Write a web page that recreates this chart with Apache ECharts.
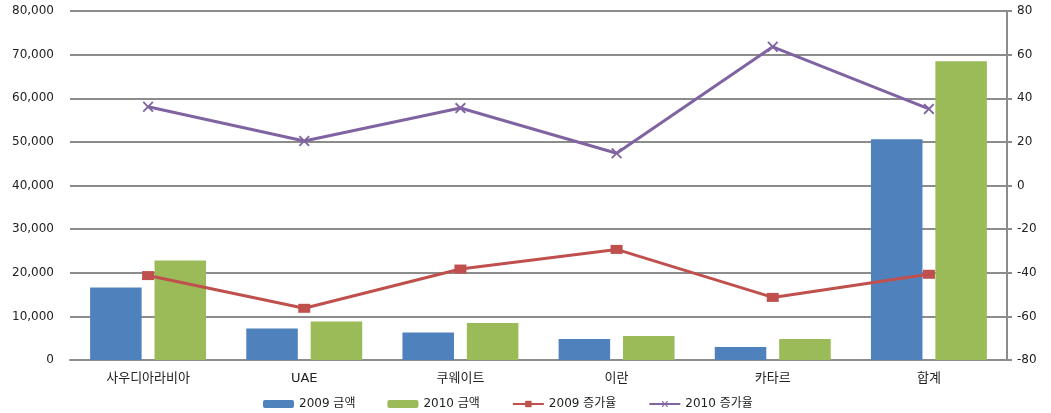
<!DOCTYPE html>
<html>
<head>
<meta charset="utf-8">
<script src="https://cdn.jsdelivr.net/npm/echarts@6/dist/echarts.min.js"></script>
<style>
  html, body { margin: 0; padding: 0; background: #fff; }
  #chart { width: 1051px; height: 413px; }
</style>
</head>
<body>
<div id="chart"></div>
<script>
// Categories and series values
const categories = ['사우디아라비아', 'UAE', '쿠웨이트', '이란', '카타르', '합계'];
const amount2009 = [16600, 7200, 6300, 4800, 3000, 50600];
const amount2010 = [22800, 8800, 8500, 5500, 4800, 68500];
const growth2009 = [-41.3, -56.3, -38.3, -29.3, -51.3, -40.7];
const growth2010 = [36.1, 20.4, 35.5, 14.8, 63.6, 35.1];
const seriesNames = ['2009 금액', '2010 금액', '2009 증가율', '2010 증가율'];

const FONT = '"DejaVu Sans", "Noto Sans CJK KR", sans-serif';
const GRID_COLOR = '#8c8c8c';
const crossSymbol = 'path://M0,1.2L1.2,0L5,3.8L8.8,0L10,1.2L6.2,5L10,8.8L8.8,10L5,6.2L1.2,10L0,8.8L3.8,5Z';

const chart = echarts.init(document.getElementById('chart'), null, { renderer: 'canvas' });

chart.setOption({
  animation: false,
  textStyle: { fontFamily: FONT },
  grid: { left: 70, right: 44, top: 11, bottom: 53, containLabel: false },
  legend: {
    data: seriesNames,
    bottom: -2,
    left: 258,
    itemWidth: 31,
    itemHeight: 8,
    itemGap: 32,
    textStyle: { fontFamily: FONT, fontSize: 12, color: '#222' }
  },
  xAxis: {
    type: 'category',
    data: categories,
    axisLine: { lineStyle: { color: GRID_COLOR, width: 2 } },
    axisTick: { show: false },
    axisLabel: { fontFamily: FONT, fontSize: 13, color: '#222', margin: 12 }
  },
  yAxis: [
    {
      type: 'value',
      min: 0, max: 80000, interval: 10000,
      axisLine: { show: false },
      axisTick: { show: false },
      splitLine: { lineStyle: { color: GRID_COLOR, width: 2 } },
      axisLabel: {
        fontFamily: FONT, fontSize: 12, color: '#222', margin: 16,
        formatter: v => v.toLocaleString('en-US')
      }
    },
    {
      type: 'value',
      min: -80, max: 80, interval: 20,
      position: 'right',
      axisLine: { show: true, lineStyle: { color: GRID_COLOR, width: 2 } },
      axisTick: { show: true, length: 5, lineStyle: { color: GRID_COLOR, width: 2 } },
      splitLine: { show: false },
      axisLabel: { fontFamily: FONT, fontSize: 12, color: '#222', margin: 10 }
    }
  ],
  series: [
    {
      name: seriesNames[0], type: 'bar', data: amount2009,
      barWidth: '33%', barGap: '25%',
      itemStyle: { color: '#4F81BD' }
    },
    {
      name: seriesNames[1], type: 'bar', data: amount2010,
      barWidth: '33%', barGap: '25%',
      itemStyle: { color: '#9BBB59' }
    },
    {
      name: seriesNames[2], type: 'line', yAxisIndex: 1, data: growth2009,
      symbol: 'rect', symbolSize: [12, 9],
      lineStyle: { color: '#C0504D', width: 3 },
      itemStyle: { color: '#C0504D' }
    },
    {
      name: seriesNames[3], type: 'line', yAxisIndex: 1, data: growth2010,
      symbol: crossSymbol, symbolSize: 11,
      lineStyle: { color: '#8064A2', width: 3 },
      itemStyle: { color: '#8064A2' }
    }
  ]
});
</script>
</body>
</html>
